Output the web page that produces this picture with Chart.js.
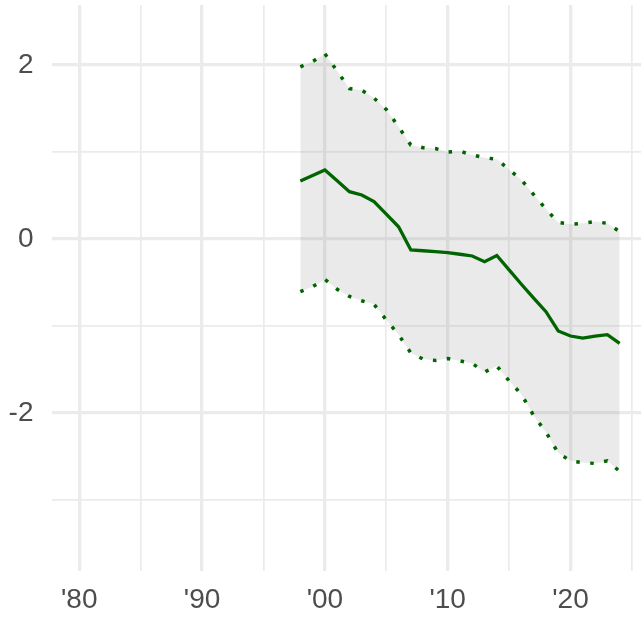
<!DOCTYPE html>
<html>
<head>
<meta charset="utf-8">
<script src="https://cdn.jsdelivr.net/npm/chart.js@4/dist/chart.umd.min.js"></script>
<style>
  html, body { margin: 0; padding: 0; background: #fff; }
  #wrap { width: 641px; height: 617px; }
</style>
</head>
<body>
<div id="wrap"><canvas id="bandChart" width="641" height="617"></canvas></div>
<script>
// ====== DATA ======
const years = [1998, 1999, 2000, 2001, 2002, 2003, 2004, 2005, 2006, 2007, 2008, 2009, 2010, 2011,
  2012, 2013, 2014, 2015, 2016, 2017, 2018, 2019, 2020, 2021, 2022, 2023, 2024];

const meanValues = [0.667, 0.73, 0.793, 0.67, 0.544, 0.506, 0.43, 0.287, 0.14, -0.126, -0.135, -0.145,
  -0.157, -0.175, -0.195, -0.26, -0.19, -0.355, -0.52, -0.68, -0.835, -1.057, -1.115, -1.14, -1.115, -1.1, -1.2];

const upperValues = [1.98, 2.04, 2.13, 1.93, 1.73, 1.71, 1.62, 1.49, 1.29, 1.08, 1.05, 1.04,
  1.0, 1.01, 0.965, 0.935, 0.916, 0.8, 0.68, 0.51, 0.345, 0.19, 0.17, 0.18, 0.2, 0.18, 0.085];

const lowerValues = [-0.605, -0.548, -0.464, -0.578, -0.66, -0.71, -0.75, -0.93, -1.1, -1.31, -1.38, -1.395,
  -1.375, -1.4, -1.43, -1.53, -1.46, -1.63, -1.785, -2.03, -2.22, -2.46, -2.55, -2.57, -2.58, -2.55, -2.67];

// tick positions (major ones get a label)
const xTicks = [1980, 1985, 1990, 1995, 2000, 2005, 2010, 2015, 2020, 2025];
const xLabels = { 1980: "'80", 1990: "'90", 2000: "'00", 2010: "'10", 2020: "'20" };
const yTicks = [-3, -2, -1, 0, 1, 2];
const yLabels = { '-2': '-2', '0': '0', '2': '2' };

// ====== HELPERS ======
const GREEN = '#006400';
const GRID = '#ebebeb';
const toPoints = vals => years.map((y, i) => ({ x: y, y: vals[i] }));
const gridWidth = isMajor => ctx => (ctx.tick && isMajor(ctx.tick.value) ? 3.3 : 1.7);

// fixed axis boxes, no extra label padding around the plot
function fixAxis(s, size) {
  if (s.isHorizontal()) s.height = size; else s.width = size;
  s.paddingTop = 0;
  s.paddingBottom = 0;
  s.paddingLeft = 0;
  s.paddingRight = 0;
}

// ====== CHART ======
const ctx = document.getElementById('bandChart').getContext('2d');
new Chart(ctx, {
  type: 'line',
  data: {
    datasets: [
      {
        label: 'mean',
        data: toPoints(meanValues),
        borderColor: GREEN,
        borderWidth: 3.3,
        pointRadius: 0,
        tension: 0,
        fill: false
      },
      {
        label: 'upper',
        data: toPoints(upperValues),
        borderColor: GREEN,
        borderWidth: 3.5,
        borderDash: [3.5, 10.5],
        pointRadius: 0,
        tension: 0,
        fill: false
      },
      {
        label: 'lower',
        data: toPoints(lowerValues),
        borderColor: GREEN,
        borderWidth: 3.5,
        borderDash: [3.5, 10.5],
        backgroundColor: 'rgba(128, 128, 128, 0.17)',
        pointRadius: 0,
        tension: 0,
        fill: 1
      }
    ]
  },
  options: {
    responsive: false,
    animation: false,
    devicePixelRatio: 1,
    layout: { padding: { top: 5, left: 0, right: 0, bottom: 0 } },
    plugins: {
      legend: { display: false },
      tooltip: { enabled: false }
    },
    scales: {
      x: {
        type: 'linear',
        min: 1977.78,
        max: 2025.74,
        afterBuildTicks: s => { s.ticks = xTicks.map(v => ({ value: v })); },
        afterFit: s => fixAxis(s, 46),
        border: { display: false },
        grid: {
          color: GRID,
          lineWidth: gridWidth(v => v % 10 === 0),
          drawTicks: false
        },
        ticks: {
          autoSkip: false,
          maxRotation: 0,
          padding: 12,
          color: '#4d4d4d',
          font: { family: "'Liberation Sans', Arial, sans-serif", size: 28 },
          callback: v => xLabels[v] || ''
        }
      },
      y: {
        type: 'linear',
        min: -3.816,
        max: 2.69,
        afterBuildTicks: s => { s.ticks = yTicks.map(v => ({ value: v })); },
        afterFit: s => fixAxis(s, 52),
        border: { display: false },
        grid: {
          color: GRID,
          lineWidth: gridWidth(v => v % 2 === 0),
          drawTicks: false
        },
        ticks: {
          autoSkip: false,
          padding: 18.5,
          color: '#4d4d4d',
          font: { family: "'Liberation Sans', Arial, sans-serif", size: 28 },
          callback: v => yLabels[String(v)] || ''
        }
      }
    }
  }
});
</script>
</body>
</html>
